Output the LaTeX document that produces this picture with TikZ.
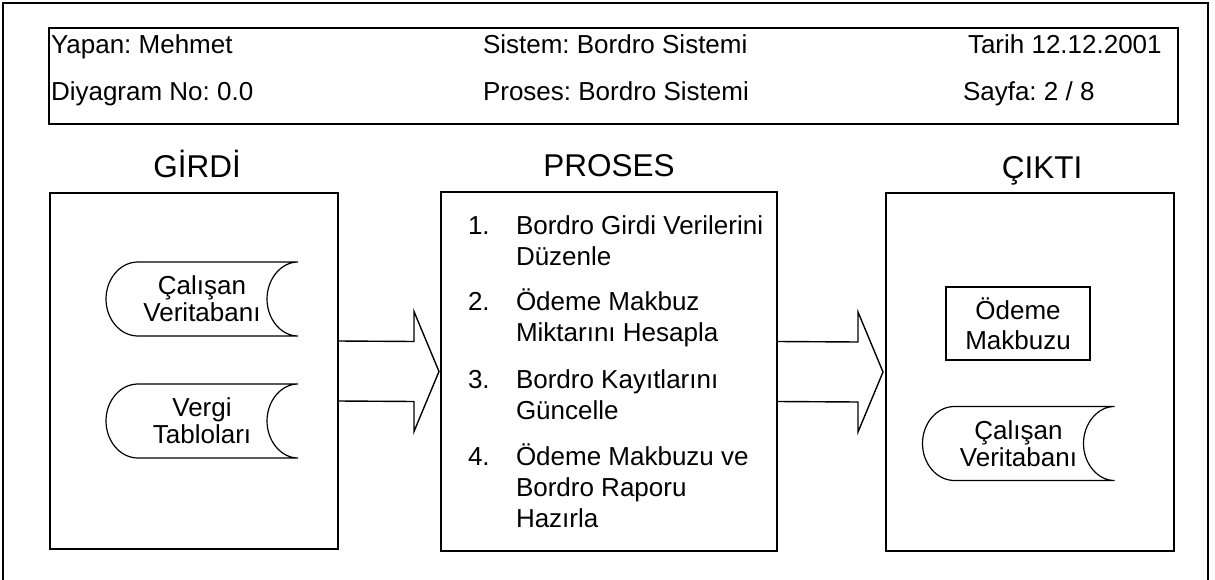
\documentclass[tikz,border=0pt]{standalone}
\usepackage{fontspec}
\setmainfont{Liberation Sans}
\usetikzlibrary{calc}
\frenchspacing
\tikzset{
  frameline/.style={line width=1.6pt},
  bigbox/.style={draw, line width=1.6pt, inner sep=0pt, outer sep=0pt},
  txt/.style={inner sep=0pt, outer sep=0pt, font=\fontsize{26}{31}\selectfont},
  heading/.style={inner sep=0pt, outer sep=0pt, font=\fontsize{31.5}{36}\selectfont, anchor=base},
  storetext/.style={inner sep=0pt, outer sep=0pt, align=center, minimum width=192pt, minimum height=74pt, font=\fontsize{26}{27}\selectfont},
  storeline/.style={draw, line width=1.2pt},
  blockarrow/.style={draw, line width=1.4pt, line join=miter},
}
\newcommand{\storageshape}[1]{%
  \draw[storeline] ([xshift=32pt]#1.north west) -- (#1.north east)
    .. controls ([xshift=-17pt]#1.north east) and ([xshift=-31pt,yshift=20pt]#1.east) .. ([xshift=-31pt]#1.east)
    .. controls ([xshift=-31pt,yshift=-20pt]#1.east) and ([xshift=-17pt]#1.south east) .. (#1.south east)
    -- ([xshift=32pt]#1.south west)
    .. controls ([xshift=14pt]#1.south west) and ([yshift=-20pt]#1.west) .. (#1.west)
    .. controls ([yshift=20pt]#1.west) and ([xshift=14pt]#1.north west) .. ([xshift=32pt]#1.north west);}
\begin{document}
\begin{tikzpicture}[x=1pt,y=-1pt]
\useasboundingbox (0,0) rectangle (1215,580);
% outer frame (bottom edge lies outside the picture)
\coordinate (fbl) at (3,580);
\coordinate (ftl) at (3,3);
\coordinate (ftr) at (1208,3);
\coordinate (fbr) at (1208,580);
\draw[frameline] (fbl) -- (ftl) -- (ftr) -- (fbr);
% header
\node[bigbox, minimum width=1129pt, minimum height=96pt] (header) at (613.5,76) {};
\node[txt, anchor=base west] (yapan) at (51,54) {Yapan: Mehmet};
\node[txt, anchor=base west] (diyagram) at (51,101) {Diyagram No: 0.0};
\node[txt, anchor=base west] (sistem) at (483,54) {Sistem: Bordro Sistemi};
\node[txt, anchor=base west] (proses1) at (483,101) {Proses: Bordro Sistemi};
\node[txt, anchor=base west] (tarih) at (968,54) {Tarih 12.12.2001};
\node[txt, anchor=base west] (sayfa) at (963,101) {Sayfa: 2 / 8};
% headings
\node[heading] (hgirdi) at (197,178) {GİRDİ};
\node[heading] (hproses) at (609,177) {PROSES};
\node[heading] (hcikti) at (1042,179) {ÇIKTI};
% main boxes
\node[bigbox, minimum width=288pt, minimum height=356pt] (girdi) at (194,371) {};
\node[bigbox, minimum width=336pt, minimum height=359pt] (proses) at (609,371.5) {};
\node[bigbox, minimum width=288pt, minimum height=358pt] (cikti) at (1030,372) {};
% input stores
\node[storetext] (calisan1) at (202,299) {Çalışan\\Veritabanı};
\storageshape{calisan1}
\node[storetext] (vergi) at (202,421) {Vergi\\Tabloları};
\storageshape{vergi}
% output
\node[bigbox, line width=1.4pt, minimum width=144pt, minimum height=73pt, align=center, font=\fontsize{26}{30}\selectfont] (odeme) at (1018,323.5) {Ödeme\\Makbuzu};
\node[storetext] (calisan2) at (1018.5,443.5) {Çalışan\\Veritabanı};
\storageshape{calisan2}
% process list (multi-line nodes are placed at the baseline of their last line)
\node[txt, anchor=base west] (n1) at (468,234) {1.};
\node[txt, anchor=base west, align=left] (t1) at (516,265) {Bordro Girdi Verilerini\\Düzenle};
\node[txt, anchor=base west] (n2) at (468,310) {2.};
\node[txt, anchor=base west, align=left] (t2) at (516,341) {Ödeme Makbuz\\Miktarını Hesapla};
\node[txt, anchor=base west] (n3) at (468,388) {3.};
\node[txt, anchor=base west, align=left] (t3) at (516,419) {Bordro Kayıtlarını\\Güncelle};
\node[txt, anchor=base west] (n4) at (468,465) {4.};
\node[txt, anchor=base west, align=left] (t4) at (516,527) {Ödeme Makbuzu ve\\Bordro Raporu\\Hazırla};
% block arrows
\draw[blockarrow] ([yshift=30pt]girdi.east) -- ([xshift=-27pt,yshift=30pt]proses.west) -- ([xshift=-27pt,yshift=60pt]proses.west) -- ([xshift=-2pt]proses.west) -- ([xshift=-27pt,yshift=-60pt]proses.west) -- ([xshift=-27pt,yshift=-30pt]proses.west) -- ([yshift=-30pt]girdi.east) -- cycle;
\draw[blockarrow] ([yshift=30pt]proses.east) -- ([xshift=-28pt,yshift=30pt]cikti.west) -- ([xshift=-28pt,yshift=60pt]cikti.west) -- ([xshift=-3pt]cikti.west) -- ([xshift=-28pt,yshift=-60pt]cikti.west) -- ([xshift=-28pt,yshift=-30pt]cikti.west) -- ([yshift=-30pt]proses.east) -- cycle;
\end{tikzpicture}
\end{document}
